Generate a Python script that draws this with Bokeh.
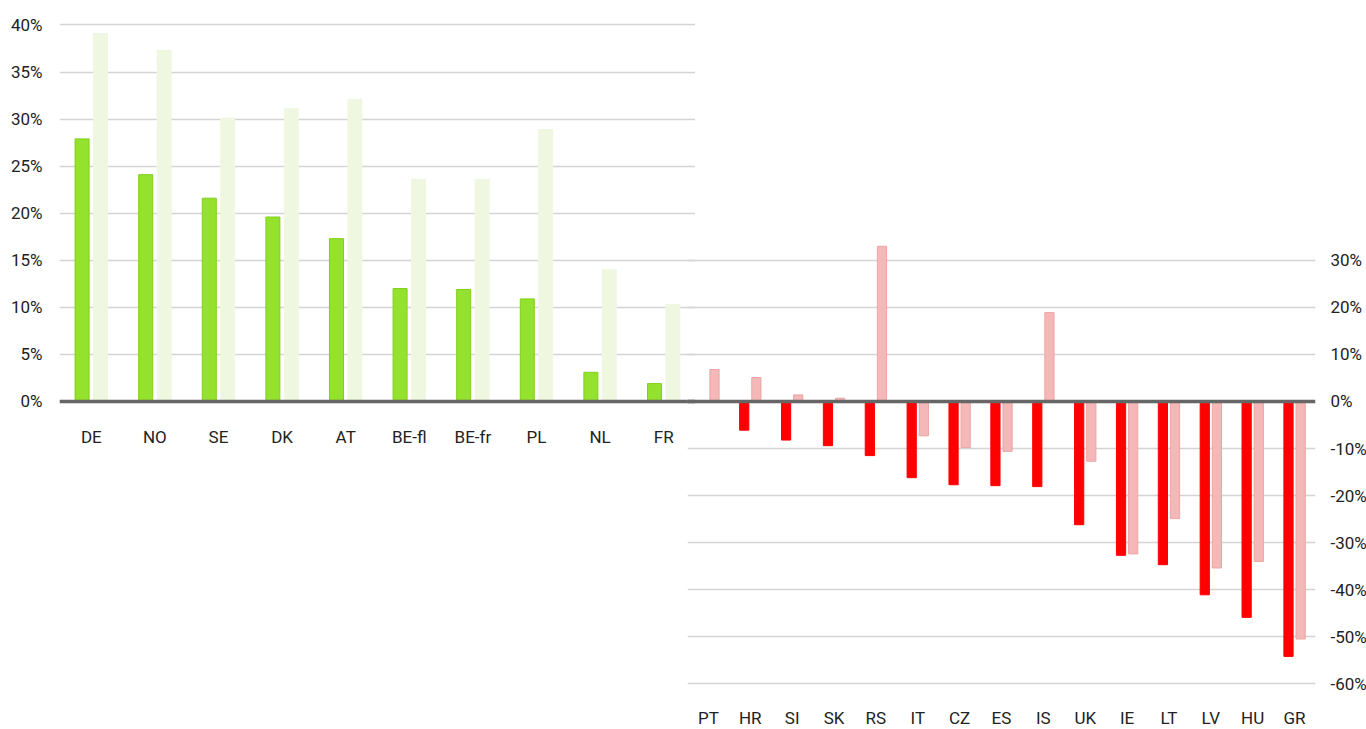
import numpy as np
from bokeh.plotting import figure
from bokeh.models import ColumnDataSource, FixedTicker, PrintfTickFormatter, Span, Range1d
from bokeh.transform import dodge
from bokeh.layouts import row
from bokeh.embed import file_html
from bokeh.resources import INLINE

# ---------------- data ----------------
left_countries = ["DE", "NO", "SE", "DK", "AT", "BE-fl", "BE-fr", "PL", "NL", "FR"]
left_series_a = [27.9, 24.1, 21.6, 19.6, 17.3, 12.0, 11.9, 10.9, 3.1, 1.9]
left_series_b = [39.1, 37.3, 30.1, 31.1, 32.1, 23.6, 23.6, 28.9, 14.0, 10.3]
left_ticks = [0, 5, 10, 15, 20, 25, 30, 35, 40]

right_countries = ["PT", "HR", "SI", "SK", "RS", "IT", "CZ", "ES", "IS",
                   "UK", "IE", "LT", "LV", "HU", "GR"]
right_series_a = [0.0, -6.1, -8.2, -9.4, -11.5, -16.2, -17.7, -17.9, -18.1,
                  -26.2, -32.7, -34.7, -41.1, -45.9, -54.2]
right_series_b = [6.8, 5.1, 1.4, 0.7, 33.0, -7.3, -9.8, -10.6, 18.9,
                  -12.7, -32.4, -24.9, -35.4, -34.0, -50.5]
right_ticks = [-60, -50, -40, -30, -20, -10, 0, 10, 20, 30]

# ---------------- style ----------------
FONT = "Roboto"
FSIZE = "17px"
TXT = "#222222"
GRID = "#d4d4d4"
BASE = "#666666"
GREEN = "#95e22e"
GREEN_LINE = "#7fcf1c"
PALE_GREEN = "#eff7e1"
RED = "#ff0000"
PINK = "#f4b8b8"
PINK_LINE = "#eea4a4"
BAR_W = 0.22
OFF = 0.145
FRAME_H = 711


def style(p):
    p.toolbar_location = None
    p.outline_line_color = None
    p.xgrid.grid_line_color = None
    p.ygrid.grid_line_color = GRID
    p.ygrid.grid_line_width = 1.5
    for ax in p.xaxis + p.yaxis:
        ax.axis_line_color = None
        ax.major_tick_line_color = None
        ax.minor_tick_line_color = None
        ax.major_label_text_font = FONT
        ax.major_label_text_font_size = FSIZE
        ax.major_label_text_color = TXT
    p.yaxis.formatter = PrintfTickFormatter(format="%d%%")


# ---------------- left chart ----------------
src_l = ColumnDataSource(dict(cat=left_countries, a=left_series_a, b=left_series_b))
pL = figure(x_range=left_countries, y_range=Range1d(-34.85, 40.69),
            frame_width=636, frame_height=FRAME_H,
            output_backend="svg", toolbar_location=None,
            min_border_left=59, min_border_right=0, min_border_top=18,
            min_border_bottom=0)
style(pL)
pL.yaxis.ticker = FixedTicker(ticks=left_ticks)
pL.ygrid.ticker = FixedTicker(ticks=left_ticks)
pL.yaxis.major_label_standoff = 11
pL.xaxis.fixed_location = 0
pL.xaxis.major_label_standoff = 20
pL.x_range.range_padding = 0

pL.vbar(x=dodge("cat", -OFF, range=pL.x_range), top="a", bottom=0, width=BAR_W,
        source=src_l, fill_color=GREEN, line_color=GREEN_LINE, line_width=1)
pL.vbar(x=dodge("cat", OFF, range=pL.x_range), top="b", bottom=0, width=BAR_W,
        source=src_l, fill_color=PALE_GREEN, line_color=PALE_GREEN, line_width=1)
pL.add_layout(Span(location=0, dimension="width", line_color=BASE, line_width=3.5))

# ---------------- right chart ----------------
src_r = ColumnDataSource(dict(cat=right_countries, a=right_series_a, b=right_series_b))
pR = figure(x_range=right_countries, y_range=Range1d(-69.74, 81.43),
            y_axis_location="right",
            frame_width=628, frame_height=FRAME_H,
            output_backend="svg", toolbar_location=None,
            min_border_left=0, min_border_right=51, min_border_top=18,
            min_border_bottom=0)
style(pR)
pR.yaxis.ticker = FixedTicker(ticks=right_ticks)
pR.ygrid.ticker = FixedTicker(ticks=right_ticks)
pR.yaxis.major_label_standoff = 9
pR.xaxis.fixed_location = -60.6
pR.xaxis.major_label_standoff = 15
pR.x_range.range_padding = 0
pR.border_fill_alpha = 0
pR.background_fill_alpha = 0
pR.margin = (0, 0, 0, -8)

pR.vbar(x=dodge("cat", -OFF, range=pR.x_range), top="a", bottom=0, width=BAR_W,
        source=src_r, fill_color=RED, line_color=RED, line_width=1)
pR.vbar(x=dodge("cat", OFF, range=pR.x_range), top="b", bottom=0, width=BAR_W,
        source=src_r, fill_color=PINK, line_color=PINK_LINE, line_width=1)
pR.add_layout(Span(location=0, dimension="width", line_color=BASE, line_width=3.5))

layout = row(pL, pR)
layout.spacing = 0

open("out.html", "w").write(file_html(layout, INLINE))
